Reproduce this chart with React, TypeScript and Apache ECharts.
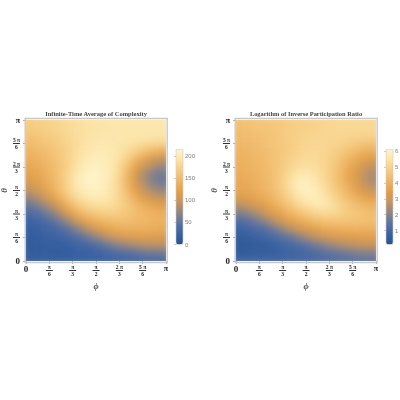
import React, { useEffect, useRef } from "react";
import * as echarts from "echarts";

const phiCategories = ["0","10","20","30","40","50","60","70","80","90","100","110","120","130","140","150","160","170","180"];
const thetaCategories = ["0","10","20","30","40","50","60","70","80","90","100","110","120","130","140","150","160","170","180"];
const xTickLabels = ["{z|0}","{n|π}\n{r| }\n{d|6}","{n|π}\n{r| }\n{d|3}","{n|π}\n{r| }\n{d|2}","{n|2 π}\n{r| }\n{d|3}","{n|5 π}\n{r| }\n{d|6}","{p|π}"];
const yTickLabels = xTickLabels;
const titleLeft = "Infinite-Time Average of Complexity";
const titleRight = "Logarithm of Inverse Participation Ratio";
const barTicksLeft = [0, 50, 100, 150, 200];
const barTicksRight = [1, 2, 3, 4, 5, 6];

// rows from theta = pi (top) down to theta = 0
const complexityRows = [
[168,170,172,175,178,182,185,188,190,192,193,194,195,195,195,195,195,195,195],
[165,167,170,173,176,180,184,187,190,192,193,194,195,195,196,196,196,196,196],
[158,161,164,168,172,177,182,187,190,193,195,196,196,196,196,195,195,194,194],
[150,153,157,162,167,173,180,187,192,196,198,197,195,191,187,183,180,177,176],
[142,146,150,156,163,171,180,189,196,200,201,198,192,184,174,162,150,142,138],
[135,139,144,151,160,170,181,192,201,206,204,198,188,172,150,130,112,102,98],
[128,132,138,146,157,169,183,197,207,211,207,198,182,158,128,105,90,78,74],
[120,125,132,142,155,170,187,203,213,214,208,197,177,148,115,88,70,60,56],
[108,115,125,138,153,170,189,205,214,214,207,195,175,147,115,90,72,62,58],
[92,100,112,128,145,165,185,200,209,210,205,193,176,152,124,102,87,78,74],
[70,80,93,110,130,152,172,187,197,200,198,190,177,160,140,122,108,100,97],
[50,58,70,85,105,128,150,167,178,184,186,183,175,165,152,140,130,125,122],
[35,40,48,60,78,100,122,142,155,163,168,170,167,162,155,148,143,140,138],
[24,27,32,40,52,68,88,108,125,137,145,150,152,152,150,146,143,141,140],
[18,20,23,28,35,44,57,73,90,106,118,127,133,136,137,136,135,133,132],
[14,15,17,20,24,29,36,45,57,70,84,95,104,110,114,116,116,115,114],
[13,13,14,16,18,20,23,28,33,41,50,60,69,77,83,88,90,91,90],
[15,15,15,16,17,18,19,21,23,26,30,34,39,44,49,53,56,58,58],
[22,22,22,22,22,23,23,24,25,26,27,28,29,31,32,33,35,36,36],
];
const iprRows = [
[4.5,4.55,4.6,4.65,4.7,4.75,4.8,4.85,4.9,4.95,5.0,5.05,5.1,5.1,5.15,5.15,5.15,5.15,5.15],
[4.4,4.45,4.5,4.55,4.6,4.7,4.75,4.85,4.9,4.95,5.0,5.05,5.1,5.15,5.15,5.15,5.15,5.15,5.15],
[4.3,4.35,4.4,4.45,4.55,4.65,4.75,4.85,4.95,5.0,5.05,5.1,5.1,5.1,5.1,5.05,5.05,5.0,5.0],
[4.2,4.25,4.3,4.4,4.5,4.6,4.7,4.85,4.95,5.05,5.1,5.1,5.05,5.0,4.9,4.8,4.65,4.55,4.5],
[4.1,4.15,4.2,4.3,4.45,4.55,4.7,4.85,5.0,5.1,5.15,5.1,5.0,4.85,4.65,4.4,4.15,4.0,3.95],
[4.0,4.05,4.15,4.25,4.4,4.55,4.75,4.95,5.1,5.2,5.2,5.1,4.95,4.7,4.35,4.0,3.65,3.4,3.3],
[3.95,4.0,4.1,4.2,4.35,4.55,4.8,5.05,5.3,5.35,5.3,5.15,4.9,4.55,4.1,3.65,3.2,2.85,2.75],
[3.85,3.9,4.0,4.15,4.3,4.55,4.85,5.25,5.6,5.7,5.5,5.25,4.9,4.5,4.0,3.5,3.0,2.6,2.45],
[3.75,3.8,3.9,4.05,4.25,4.55,4.9,5.4,5.85,5.95,5.7,5.35,4.95,4.55,4.05,3.55,3.05,2.65,2.5],
[3.6,3.65,3.8,3.95,4.15,4.45,4.85,5.3,5.8,5.95,5.85,5.5,5.1,4.7,4.25,3.8,3.35,3.0,2.9],
[3.25,3.35,3.5,3.7,3.95,4.25,4.6,5.0,5.45,5.75,5.85,5.7,5.35,4.95,4.55,4.2,3.85,3.6,3.5],
[2.5,2.7,2.95,3.2,3.55,3.9,4.25,4.6,5.0,5.3,5.5,5.6,5.45,5.15,4.85,4.55,4.3,4.15,4.05],
[1.8,1.95,2.2,2.55,3.0,3.35,3.7,4.1,4.4,4.7,4.95,5.1,5.1,5.05,4.85,4.7,4.55,4.45,4.4],
[1.15,1.3,1.5,1.8,2.2,2.65,3.05,3.4,3.7,4.0,4.2,4.4,4.5,4.55,4.55,4.5,4.45,4.4,4.35],
[0.75,0.85,1.0,1.15,1.4,1.75,2.15,2.55,2.9,3.2,3.45,3.65,3.8,3.9,3.95,4.0,4.0,4.0,4.0],
[0.5,0.55,0.65,0.75,0.9,1.1,1.35,1.6,1.95,2.3,2.6,2.85,3.05,3.2,3.3,3.35,3.4,3.4,3.4],
[0.4,0.45,0.5,0.55,0.65,0.75,0.9,1.05,1.2,1.45,1.7,1.95,2.2,2.4,2.55,2.7,2.75,2.8,2.8],
[0.55,0.55,0.6,0.6,0.65,0.7,0.8,0.85,0.95,1.05,1.15,1.3,1.45,1.6,1.75,1.85,1.95,2.0,2.0],
[0.9,0.9,0.9,0.95,0.95,1.0,1.0,1.05,1.05,1.1,1.15,1.2,1.25,1.3,1.35,1.4,1.45,1.5,1.5],
];
const palette = ["#27528f","#3a62a3","#5c72a0","#8f8585","#c49460","#e29f4a","#eeb464","#f6cb80","#fce3a6","#fff3c8"];

const SERIF = "Liberation Serif";
const rich = {
  z: { fontFamily: SERIF, fontWeight: "bold", fontSize: 9, color: "#222", align: "center" },
  p: { fontFamily: SERIF, fontWeight: "bold", fontSize: 8, color: "#222", align: "center" },
  n: { fontFamily: SERIF, fontWeight: "bold", fontSize: 5.5, color: "#222", lineHeight: 6, align: "center" },
  d: { fontFamily: SERIF, fontWeight: "bold", fontSize: 5.5, color: "#222", lineHeight: 6, align: "center" },
  r: { width: 7, height: 1, lineHeight: 1, backgroundColor: "#333", fontSize: 1, align: "center" },
};

function cells(rows: number[][]) {
  const out: number[][] = [];
  rows.forEach((row, r) => row.forEach((v, c) => out.push([c, rows.length - 1 - r, v])));
  return out;
}

const panels = [
  { left: 26, barLeft: 176, rows: complexityRows, min: 0, max: 215, ticks: barTicksLeft, title: titleLeft, titleSize: 6.5 },
  { left: 236, barLeft: 386, rows: iprRows, min: 0.12, max: 6.12, ticks: barTicksRight, title: titleRight, titleSize: 6.4 },
];
const PLOT_W = 140, PLOT_H = 141, PLOT_T = 120;

function App() {
  const heatRef = useRef<HTMLDivElement>(null);
  const ref = useRef<HTMLDivElement>(null);
  useEffect(() => {
    const heat = echarts.init(heatRef.current!, undefined, { renderer: "svg" });
    const chart = echarts.init(ref.current!, undefined, { renderer: "svg" });

    // Heat layer: first and last cell centred on the plot's edges, so the axes 0..pi line up
    const n = phiCategories.length;
    const cw = PLOT_W / (n - 1), ch = PLOT_H / (n - 1);
    heat.setOption({
      animation: false,
      grid: panels.map((p) => ({ left: p.left - cw / 2, top: PLOT_T - ch / 2, width: PLOT_W + cw, height: PLOT_H + ch, outerBoundsMode: "none" })),
      xAxis: panels.map((_, k) => ({ gridIndex: k, type: "category", data: phiCategories, show: false })),
      yAxis: panels.map((_, k) => ({ gridIndex: k, type: "category", data: thetaCategories, show: false })),
      series: panels.map((p, k) => ({ type: "heatmap", xAxisIndex: k, yAxisIndex: k, data: cells(p.rows), progressive: 0, emphasis: { disabled: true } })),
      visualMap: panels.map((p, k) => ({ type: "continuous", show: false, seriesIndex: k, min: p.min, max: p.max, inRange: { color: palette } })),
    });

    const grid: any[] = [], xAxis: any[] = [], yAxis: any[] = [], visualMap: any[] = [], graphic: any[] = [];
    panels.forEach((p, k) => {
      const g = k * 2;
      grid.push({ left: p.left, top: PLOT_T, width: PLOT_W, height: PLOT_H, outerBoundsMode: "none" });
      grid.push({ left: p.barLeft, top: 149.5, width: 7, height: 95, outerBoundsMode: "none" });
      xAxis.push({
        gridIndex: g, type: "value", min: 0, max: 180, interval: 30, position: "bottom",
        name: "ϕ", nameLocation: "middle", nameGap: 20,
        nameTextStyle: { fontFamily: SERIF, fontStyle: "italic", fontWeight: "bold", fontSize: 9, color: "#555" },
        splitLine: { show: false }, axisLine: { show: false },
        axisTick: { length: 3, lineStyle: { color: "#888", width: 0.7 } },
        axisLabel: { margin: 3, align: "center", formatter: (v: number) => xTickLabels[v / 30], rich, verticalAlign: "top", hideOverlap: false, showMinLabel: true, showMaxLabel: true },
      });
      yAxis.push({
        gridIndex: g, type: "value", min: 0, max: 180, interval: 30, position: "left",
        name: "θ", nameLocation: "middle", nameGap: 18, nameRotate: 90,
        nameTextStyle: { fontFamily: SERIF, fontStyle: "italic", fontWeight: "bold", fontSize: 9, color: "#555" },
        splitLine: { show: false }, axisLine: { show: false },
        axisTick: { length: 3, lineStyle: { color: "#888", width: 0.7 } },
        axisLabel: { margin: 6, formatter: (v: number) => yTickLabels[v / 30], rich, hideOverlap: false, showMinLabel: true, showMaxLabel: true },
      });
      xAxis.push({ gridIndex: g + 1, type: "value", min: 0, max: 1, show: false });
      yAxis.push({
        gridIndex: g + 1, type: "value", min: p.min, max: p.max, position: "right",
        splitLine: { show: false }, axisLine: { show: false },
        axisTick: { show: true, length: 2, inside: true, customValues: p.ticks, lineStyle: { color: "#999", width: 0.5 } },
        axisLabel: { margin: 2, fontFamily: "Liberation Sans", fontSize: 6, color: "#808080", customValues: p.ticks, showMinLabel: true, showMaxLabel: true, hideOverlap: false },
      });
      visualMap.push({
        type: "continuous", seriesIndex: [], min: p.min, max: p.max, calculable: false,
        left: p.barLeft, top: 149.5, itemWidth: 7, itemHeight: 95, padding: 0, showLabel: false,
        inRange: { color: palette }, borderWidth: 0,
      });
      graphic.push({ type: "rect", z: 10, shape: { x: p.left - 0.8, y: 118.5, width: 142, height: 144 }, style: { fill: "none", stroke: "#c8c8c8", lineWidth: 1.4 } });
      graphic.push({ type: "rect", z: 10, shape: { x: p.barLeft, y: 149.5, width: 7, height: 95 }, style: { fill: "none", stroke: "#cfcfcf", lineWidth: 0.6 } });
      graphic.push({ type: "text", z: 10, x: p.left + 70, y: 113, style: { text: p.title, font: `bold ${p.titleSize}px "${SERIF}"`, fill: "#444", align: "center", verticalAlign: "middle" } });
    });
    chart.setOption({ animation: false, grid, xAxis, yAxis, visualMap, graphic });
    return () => { heat.dispose(); chart.dispose(); };
  }, []);
  const box: React.CSSProperties = { position: "fixed", left: 0, top: 0, width: 400, height: 400 };
  const clip = panels.map((p) => `M${p.left} ${PLOT_T}h${PLOT_W}v${PLOT_H}h${-PLOT_W}z`).join(" ");
  return (
    <>
      <div ref={heatRef} style={{ ...box, filter: "blur(3px)", clipPath: `path('${clip}')` }} />
      <div ref={ref} style={box} />
    </>
  );
}

export default App;
